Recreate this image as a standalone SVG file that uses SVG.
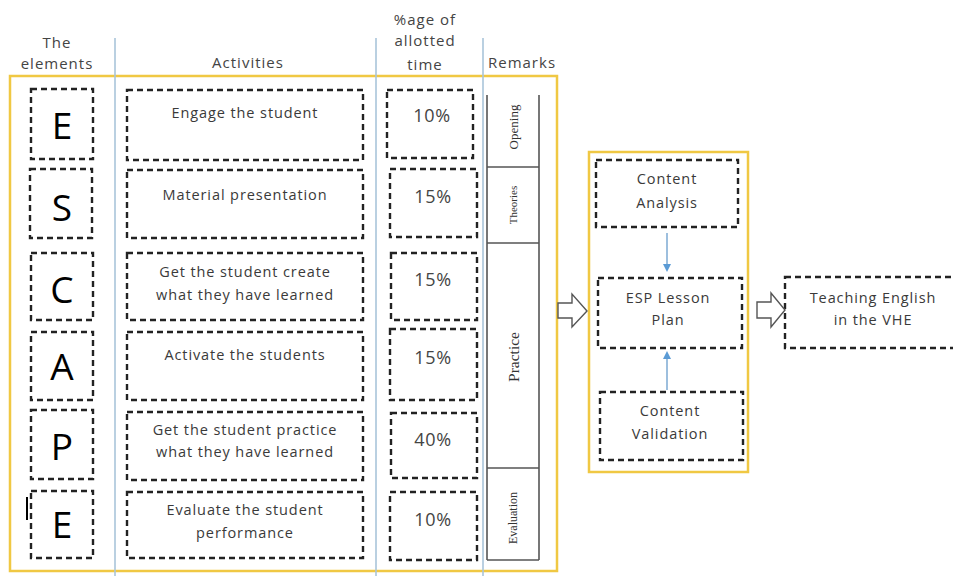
<svg xmlns="http://www.w3.org/2000/svg" width="953" height="576" viewBox="0 0 953 576">
<defs>
<style>
.bx{fill:#fff;stroke:#222;stroke-width:2.4;stroke-dasharray:6 4}
.yl{fill:none;stroke:#f0c843;stroke-width:2.5}
.bl{stroke:#a9c5da;stroke-width:1.6}
.hd{font-family:"Open Sans","Liberation Sans",sans-serif;font-size:15px;fill:#444;text-anchor:middle;letter-spacing:1px}
.tx{font-family:"Open Sans","Liberation Sans",sans-serif;font-size:14.5px;fill:#3a3a3a;text-anchor:middle;letter-spacing:0.9px}
.lt{font-family:"Open Sans","Liberation Sans",sans-serif;font-size:37px;fill:#000;text-anchor:middle}
.pc{font-family:"Open Sans","Liberation Sans",sans-serif;font-size:18px;fill:#444;text-anchor:middle;letter-spacing:0.6px}
.rm{font-family:"Liberation Serif",serif;fill:#333;text-anchor:middle}
.tb{stroke:#555;stroke-width:1.6;fill:none}
.ha{fill:#fff;stroke:#555;stroke-width:1.4}
</style>
<marker id="ah" markerWidth="4" markerHeight="4" refX="2" refY="2" orient="auto" markerUnits="strokeWidth">
<path d="M0,0 L4,2 L0,4 z" fill="#5b9bd5"/>
</marker>
<clipPath id="clipAllot"><rect x="380" y="28" width="75" height="24"/></clipPath>
</defs>
<rect width="953" height="576" fill="#fff"/>

<g id="frame">
<rect class="yl" x="10" y="76" width="547" height="495"/>
<line class="bl" x1="115" y1="38" x2="115" y2="576"/>
<line class="bl" x1="376" y1="38" x2="376" y2="576"/>
<line class="bl" x1="483" y1="38" x2="483" y2="576"/>
</g>

<g id="headers">
<text class="hd" x="57" y="48">The</text>
<text class="hd" x="57" y="69">elements</text>
<text class="hd" x="248" y="68">Activities</text>
<text class="hd" x="425" y="25">%age of</text>
<text class="hd" x="425" y="46" clip-path="url(#clipAllot)">allotted</text>
<text class="hd" x="425" y="70">time</text>
<text class="hd" x="522" y="68">Remarks</text>
</g>

<g id="letters">
<g id="el-E1"><rect class="bx" x="31" y="89" width="62" height="70"/><text class="lt" x="62" y="139">E</text></g>
<g id="el-S"><rect class="bx" x="30" y="169" width="62" height="69"/><text class="lt" x="62" y="221">S</text></g>
<g id="el-C"><rect class="bx" x="31" y="253" width="62" height="67"/><text class="lt" x="62" y="303">C</text></g>
<g id="el-A"><rect class="bx" x="31" y="332" width="62" height="68"/><text class="lt" x="62" y="380">A</text></g>
<g id="el-P"><rect class="bx" x="31" y="410" width="62" height="69"/><text class="lt" x="62" y="460">P</text></g>
<g id="el-E2"><rect class="bx" x="31" y="491" width="62" height="67"/><text class="lt" x="62" y="538">E</text><line x1="27" y1="497" x2="27" y2="520" stroke="#000" stroke-width="2"/></g>
</g>

<g id="activities">
<g id="act1"><rect class="bx" x="127" y="90" width="236" height="70"/><text class="tx" x="245" y="118">Engage the student</text></g>
<g id="act2"><rect class="bx" x="127" y="170" width="236" height="68"/><text class="tx" x="245" y="200">Material presentation</text></g>
<g id="act3"><rect class="bx" x="127" y="253" width="236" height="67"/><text class="tx" x="245" y="277">Get the student create</text><text class="tx" x="245" y="300">what they have learned</text></g>
<g id="act4"><rect class="bx" x="127" y="332" width="236" height="68"/><text class="tx" x="245" y="360">Activate the students</text></g>
<g id="act5"><rect class="bx" x="127" y="412" width="236" height="68"/><text class="tx" x="245" y="435">Get the student practice</text><text class="tx" x="245" y="457">what they have learned</text></g>
<g id="act6"><rect class="bx" x="127" y="492" width="236" height="66"/><text class="tx" x="245" y="515">Evaluate the student</text><text class="tx" x="245" y="538">performance</text></g>
</g>

<g id="percent">
<g id="pc1"><rect class="bx" x="387" y="90" width="86" height="68"/><text class="pc" x="432" y="122">10%</text></g>
<g id="pc2"><rect class="bx" x="390" y="169" width="87" height="68"/><text class="pc" x="433" y="203">15%</text></g>
<g id="pc3"><rect class="bx" x="391" y="253" width="86" height="67"/><text class="pc" x="433" y="286">15%</text></g>
<g id="pc4"><rect class="bx" x="390" y="329" width="87" height="71"/><text class="pc" x="433" y="364">15%</text></g>
<g id="pc5"><rect class="bx" x="391" y="413" width="86" height="65"/><text class="pc" x="433" y="446">40%</text></g>
<g id="pc6"><rect class="bx" x="390" y="492" width="87" height="68"/><text class="pc" x="433" y="526">10%</text></g>
</g>

<g id="remarks">
<line class="tb" x1="487" y1="95" x2="487" y2="560"/>
<line class="tb" x1="539" y1="95" x2="539" y2="560"/>
<line class="tb" x1="487" y1="167" x2="539" y2="167"/>
<line class="tb" x1="487" y1="243" x2="539" y2="243"/>
<line class="tb" x1="487" y1="468" x2="539" y2="468"/>
<line class="tb" x1="487" y1="560" x2="539" y2="560"/>
<text class="rm" font-size="13" transform="translate(518,127) rotate(-90)">Opening</text>
<text class="rm" font-size="11" transform="translate(517,205) rotate(-90)">Theories</text>
<text class="rm" font-size="15.5" transform="translate(519,357) rotate(-90)">Practice</text>
<text class="rm" font-size="12" transform="translate(517,518) rotate(-90)">Evaluation</text>
</g>

<g id="right-frame">
<rect class="yl" x="589" y="152" width="159" height="320"/>
</g>

<g id="content-analysis"><rect class="bx" x="596" y="160" width="142" height="67"/><text class="tx" x="667" y="184">Content</text><text class="tx" x="667" y="208">Analysis</text></g>
<g id="esp-plan"><rect class="bx" x="598" y="278" width="144" height="70"/><text class="tx" x="668" y="303">ESP Lesson</text><text class="tx" x="668" y="325">Plan</text></g>
<g id="content-validation"><rect class="bx" x="600" y="392" width="143" height="68"/><text class="tx" x="670" y="416">Content</text><text class="tx" x="670" y="439">Validation</text></g>
<g id="teaching"><rect class="bx" x="785" y="277" width="180" height="71"/><text class="tx" x="873" y="303">Teaching English</text><text class="tx" x="873" y="325">in the VHE</text></g>

<g id="connectors">
<line x1="667" y1="233" x2="667" y2="268" stroke="#9dbfde" stroke-width="2" marker-end="url(#ah)"/>
<line x1="667" y1="390" x2="667" y2="355" stroke="#9dbfde" stroke-width="2" marker-end="url(#ah)"/>
<path class="ha" d="M558,303 L572,303 L572,294 L587,311 L572,327 L572,318 L558,318 z"/>
<path class="ha" d="M757,302 L771,302 L771,293 L785,310 L771,327 L771,318 L757,318 z"/>
</g>
</svg>
